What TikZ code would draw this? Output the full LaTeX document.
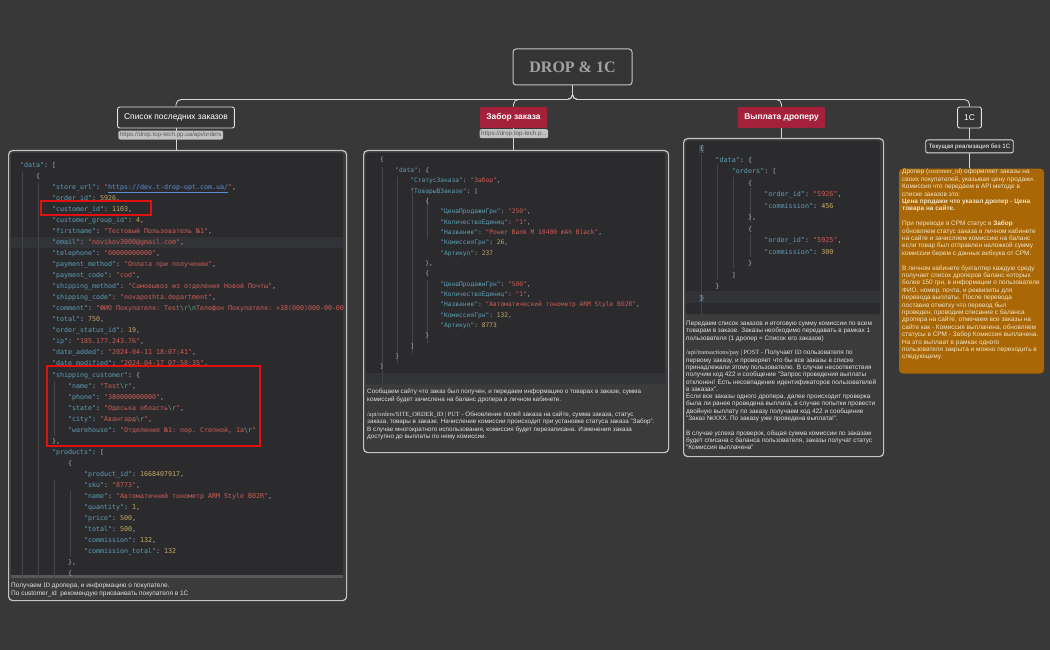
\documentclass[tikz,border=0pt]{standalone}
\usepackage{fontspec}
\setmainfont{Liberation Sans}
\setmonofont{DejaVu Sans Mono}
\newfontfamily\serifface{Liberation Serif}
\usepackage{xcolor}
\usetikzlibrary{positioning}
\definecolor{canvas}{HTML}{383838}
\definecolor{hdrbg}{HTML}{353535}
\definecolor{frame}{HTML}{C4C4C4}
\definecolor{capbg}{HTML}{3B3B3B}
\definecolor{codebg}{HTML}{2B2B2E}
\definecolor{hlrow}{HTML}{323337}
\definecolor{guidec}{HTML}{45464A}
\definecolor{scroll}{HTML}{57585C}
\definecolor{jkey}{HTML}{5E9FB4}
\definecolor{jstr}{HTML}{CF5D57}
\definecolor{jnum}{HTML}{C6AA66}
\definecolor{jpun}{HTML}{A9B2BB}
\definecolor{jesc}{HTML}{62A88C}
\definecolor{jurl}{HTML}{5B8FD8}
\definecolor{jbrace}{HTML}{E3C25A}
\definecolor{jmatch}{HTML}{34405C}
\definecolor{crimson}{HTML}{A4213C}
\definecolor{pill}{HTML}{C2C2C2}
\definecolor{pilltext}{HTML}{5A5A5A}
\definecolor{wire}{HTML}{D6D6D6}
\definecolor{markred}{HTML}{E0110F}
\definecolor{notefill}{HTML}{A96705}
\definecolor{notetxt}{HTML}{F3E4C6}
\definecolor{captxt}{HTML}{E2E2E2}
\definecolor{titletxt}{HTML}{A3A3A3}
% json tokens
\newcommand{\jk}[1]{\textcolor{jkey}{"#1"}: }
\newcommand{\js}[1]{\textcolor{jstr}{"#1"}}
\newcommand{\jn}[1]{\textcolor{jnum}{#1}}
\newcommand{\esc}[1]{\textcolor{jesc}{\textbackslash #1}}
\newcommand{\tb}{\hspace*{2.408em}}
\newcommand{\mbr}[1]{{\fboxsep=0.6pt\colorbox{jmatch}{\textcolor{jbrace}{#1}}}}
\tikzset{
  titlebox/.style={rectangle,rounded corners=3pt,draw=frame,line width=1pt,fill=hdrbg,
    text=titletxt,font=\fontsize{16}{18}\selectfont\serifface\bfseries,minimum width=119pt,minimum height=36pt},
  hdr/.style={rectangle,rounded corners=2pt,draw=white!88!black,line width=0.9pt,fill=hdrbg,text=white,
    font=\fontsize{8.4}{10}\selectfont,minimum height=21pt,inner xsep=6.5pt},
  redhdr/.style={hdr,draw=none,fill=crimson,font=\fontsize{8.4}{10}\selectfont\bfseries},
  urlpill/.style={rectangle,rounded corners=2pt,fill=pill,text=pilltext,font=\fontsize{6.2}{7}\selectfont,
    inner xsep=1.5pt,inner ysep=1pt,minimum height=9pt},
  panel/.style={rectangle,rounded corners=4pt,draw=frame,line width=1.2pt,fill=capbg,anchor=north west,inner sep=0pt},
  notebox/.style={rectangle,rounded corners=4pt,fill=notefill,inner sep=0pt},
  codetext/.style={anchor=north west,inner sep=0pt,align=left,text=jpun},
  captext/.style={anchor=north west,inner sep=0pt,align=left,text=captxt},
  conn/.style={draw=wire,line width=0.9pt,rounded corners=5pt},
  redmark/.style={draw=markred,line width=1.4pt},
  guide/.style={draw=guidec,line width=0.5pt}
}
\begin{document}
\begin{tikzpicture}[x=1pt,y=-1pt]
\useasboundingbox (0,0) rectangle (1050,650);
\fill[canvas] (0,0) rectangle (1050,650);

% title and branches
\node[titlebox] (title) at (572.5,67) {DROP \& 1C};
\node[hdr] (lst) at (176,117.5) {Список последних заказов};
\node[redhdr] (take) at (513.5,117.5) {Забор заказа};
\node[redhdr] (pay) at (781.5,117.5) {Выплата дроперу};
\node[hdr] (onec) at (969.5,117.5) {1С};
\node[hdr,minimum height=13pt,inner xsep=3pt,font=\fontsize{6.2}{7}\selectfont,below=11pt of onec] (cur) {Текущая реализация без 1С};

% panels
\node[panel,minimum width=338pt,minimum height=450pt] (ordpanel) at (8,150) {};
\node[panel,minimum width=305pt,minimum height=302pt] (takepanel) at (363,150) {};
\node[panel,minimum width=200pt,minimum height=318pt] (paypanel) at (683,138) {};
\node[notebox,minimum width=145pt,minimum height=205pt,below=15pt of cur,xshift=2pt] (note) {};

\draw[conn] (title.south) -- ++(0,14) -| (lst.north);
\draw[conn] (title.south) -- ++(0,14) -| (take.north);
\draw[conn] (title.south) -- ++(0,14) -| (pay.north);
\draw[conn] (title.south) -- ++(0,14) -| (onec.north);
\draw[conn] (lst.south) -- (lst.south |- ordpanel.north);
\draw[conn] (take.south) -- (take.south |- takepanel.north);
\draw[conn] (pay.south) -- (pay.south |- paypanel.north);
\draw[conn] (onec) -- (cur);
\draw[conn] (cur) -- (cur.south |- note.north);

\node[urlpill,below=2pt of lst.south west,anchor=north west,xshift=1pt] (lsturl) {https://drop.top-tech.pp.ua/api/orders};
\node[urlpill,below=0.5pt of take.south west,anchor=north west] (takeurl) {https://drop.top-tech.p...};

% code areas
\fill[codebg,rounded corners=2pt] (11,153) rectangle (343,577);
\fill[hlrow] (11,237) rectangle (343,248);
\fill[scroll] (11,575) rectangle (343,578);
\fill[codebg,rounded corners=2pt] (366,153) rectangle (665,384);
\fill[hlrow] (366,373) rectangle (665,384);
\fill[codebg,rounded corners=2pt] (686,141) rectangle (880,314);
\fill[hlrow] (686,291) rectangle (880,303);

\draw[guide] (22,172) -- (22,577);
\draw[guide] (38,183) -- (38,577);
\draw[guide] (54,381) -- (54,436);
\draw[guide] (54,480) -- (54,577);
\draw[guide] (70,491) -- (70,557);
\draw[guide] (382,167) -- (382,384);
\draw[guide] (397,177) -- (397,363);
\draw[guide] (412,187) -- (412,353);
\draw[guide] (427,197) -- (427,239);
\draw[guide] (427,280) -- (427,343);
\draw[guide] (701,154) -- (701,314);
\draw[guide] (717,165) -- (717,280);
\draw[guide] (733,177) -- (733,268);
\draw[guide] (750,188) -- (750,222);
\draw[guide] (750,234) -- (750,257);

\begin{scope}
\clip (11,153) rectangle (343,575);
\node[codetext,font=\fontsize{6.64}{11.04}\selectfont\ttfamily] (ordcode) at (20,162) {%
\jk{data}[\\
\tb\{\\
\tb\tb\jk{store\_url}\textcolor{jstr}{"}\textcolor{jurl}{\underline{https://dev.t-drop-opt.com.ua/}}\textcolor{jstr}{"},\\
\tb\tb\jk{order\_id}\jn{5926},\\
\tb\tb\jk{customer\_id}\jn{1103},\\
\tb\tb\jk{customer\_group\_id}\jn{4},\\
\tb\tb\jk{firstname}\js{Тестовый Пользователь №1},\\
\tb\tb\jk{email}\js{novikov3000@gmail.com},\\
\tb\tb\jk{telephone}\js{00000000000},\\
\tb\tb\jk{payment\_method}\js{Оплата при получении},\\
\tb\tb\jk{payment\_code}\js{cod},\\
\tb\tb\jk{shipping\_method}\js{Самовывоз из отделения Новой Почты},\\
\tb\tb\jk{shipping\_code}\js{novaposhta.department},\\
\tb\tb\jk{comment}\textcolor{jstr}{"ФИО Покупателя: Test\esc{r}\esc{n}Телефон Покупателя: +38(000)000-00-00"},\\
\tb\tb\jk{total}\jn{750},\\
\tb\tb\jk{order\_status\_id}\jn{19},\\
\tb\tb\jk{ip}\js{185.177.243.76},\\
\tb\tb\jk{date\_added}\js{2024-04-11 18:07:41},\\
\tb\tb\jk{date\_modified}\js{2024-04-17 07:58:35},\\
\tb\tb\jk{shipping\_customer}\{\\
\tb\tb\tb\jk{name}\textcolor{jstr}{"Test\esc{r}"},\\
\tb\tb\tb\jk{phone}\js{380000000000},\\
\tb\tb\tb\jk{state}\textcolor{jstr}{"Одеська область\esc{r}"},\\
\tb\tb\tb\jk{city}\textcolor{jstr}{"Авангард\esc{r}"},\\
\tb\tb\tb\jk{warehouse}\textcolor{jstr}{"Отделение №1: пер. Степной, 1а\esc{r}"}\\
\tb\tb\},\\
\tb\tb\jk{products}[\\
\tb\tb\tb\{\\
\tb\tb\tb\tb\jk{product\_id}\jn{1668407917},\\
\tb\tb\tb\tb\jk{sku}\js{8773},\\
\tb\tb\tb\tb\jk{name}\js{Автоматичний тонометр ARM Style B02R},\\
\tb\tb\tb\tb\jk{quantity}\jn{1},\\
\tb\tb\tb\tb\jk{price}\jn{500},\\
\tb\tb\tb\tb\jk{total}\jn{500},\\
\tb\tb\tb\tb\jk{commission}\jn{132},\\
\tb\tb\tb\tb\jk{commission\_total}\jn{132}\\
\tb\tb\tb\},\\
\tb\tb\tb\{};
\end{scope}
\draw[redmark] (41,201) rectangle (151,215);
\draw[redmark] (47,366) rectangle (260,446);

\node[codetext,font=\fontsize{6.25}{10.35}\selectfont\ttfamily] (takecode) at (380,157) {%
\{\\
\tb\jk{data}\{\\
\tb\tb\jk{СтатусЗаказа}\js{Забор},\\
\tb\tb\jk{ТоварыВЗаказе}[\\
\tb\tb\tb\{\\
\tb\tb\tb\tb\jk{ЦенаПродажиГрн}\js{250},\\
\tb\tb\tb\tb\jk{КоличествоЕдиниц}\js{1},\\
\tb\tb\tb\tb\jk{Название}\js{Power Bank M 10400 mAh Black},\\
\tb\tb\tb\tb\jk{КомиссияГрн}\jn{26},\\
\tb\tb\tb\tb\jk{Артикул}\jn{237}\\
\tb\tb\tb\},\\
\tb\tb\tb\{\\
\tb\tb\tb\tb\jk{ЦенаПродажиГрн}\js{500},\\
\tb\tb\tb\tb\jk{КоличествоЕдиниц}\js{1},\\
\tb\tb\tb\tb\jk{Название}\js{Автоматический тонометр ARM Style B02R},\\
\tb\tb\tb\tb\jk{КомиссияГрн}\jn{132},\\
\tb\tb\tb\tb\jk{Артикул}\jn{8773}\\
\tb\tb\tb\}\\
\tb\tb]\\
\tb\}\\
\}};

\node[codetext,font=\fontsize{6.76}{11.5}\selectfont\ttfamily] (paycode) at (699,145) {%
\mbr{\{}\\
\tb\jk{data}\{\\
\tb\tb\jk{orders}[\\
\tb\tb\tb\{\\
\tb\tb\tb\tb\jk{order\_id}\js{5926},\\
\tb\tb\tb\tb\jk{commission}\jn{456}\\
\tb\tb\tb\},\\
\tb\tb\tb\{\\
\tb\tb\tb\tb\jk{order\_id}\js{5925},\\
\tb\tb\tb\tb\jk{commission}\jn{300}\\
\tb\tb\tb\}\\
\tb\tb]\\
\tb\}\\
\mbr{\}}};

% captions
\node[captext,font=\fontsize{6.5}{8}\selectfont] (ordcap) at (11,583) {%
Получаем {\serifface ID} дропера, и информацию о покупателе.\\
По customer\_id\ \ рекомендую присваивать покупателя в 1С};

\node[captext,font=\fontsize{6.3}{7.5}\selectfont] (takecap) at (367,389) {%
Сообщаем сайту что заказ был получен, и передаем информацию о товарах в заказе, сумма\\
комиссий будет зачислена на баланс дропера в личном кабинете.\\[7.5pt]
{\serifface /api/orders/SITE\_ORDER\_ID | PUT} - Обновление полей заказа на сайте, сумма заказа, статус\\
заказа, товары в заказе. Начисление комиссии происходит при установке статуса заказа "Забор".\\
В случае многократного использования, комиссия будет перезаписана. Изменения заказа\\
доступно до выплаты по нему комиссии.};

\node[captext,font=\fontsize{6.4}{7.3}\selectfont] (paycap) at (686,321) {%
Передаем список заказов и итоговую сумму комиссии по всем\\
товарам в заказе. Заказы необходимо передавать в рамках 1\\
пользователя (1 дропер = Список его заказов)\\[7.3pt]
{\serifface /api/transactions/pay | POST} - Получает {\serifface ID} пользователя по\\
первому заказу, и проверяет что бы все заказы в списке\\
принадлежали этому пользователю. В случае несоответствия\\
получим код 422 и сообщение "Запрос проведения выплаты\\
отклонен! Есть несовпадение идентификаторов пользователей\\
в заказах".\\
Если все заказы одного дропера, далее происходит проверка\\
была ли ранее проведена выплата, в случае попытки провести\\
двойную выплату по заказу получаем код 422 и сообщение\\
"Заказ №XXX. По заказу уже проведена выплата!".\\[7.3pt]
В случае успеха проверок, общая сумма комиссии по заказам\\
будет списана с баланса пользователя, заказы получат статус\\
"Комиссия выплачена"};

\node[captext,text=notetxt,font=\fontsize{6.45}{7.4}\selectfont] (notetext) at (902,169) {%
Дропер ({\serifface customer\_id}) оформляет заказы на\\
своих покупателей, указывая цену продажи.\\
Комиссия что передаем в API методе в\\
списке заказов это:\\
\textbf{Цена продажи что указал дропер - Цена}\\
\textbf{товара на сайте.}\\[7.4pt]
При переводе в СРМ статус в \textbf{Забор}\\
обновляем статус заказа в личном кабинете\\
на сайте и зачисляем комиссию на баланс\\
если товар был отправлен наложкой сумму\\
комиссии берем с данных вебхука от СРМ.\\[7.4pt]
В личном кабинете бухгалтер каждую среду\\
получает список дроперов баланс которых\\
более 150 грн, в информации о пользователе\\
ФИО, номер, почта, и реквизиты для\\
перевода выплаты. После перевода\\
поставив отметку что перевод был\\
проведен, проводим списание с баланса\\
дропера на сайте, отмечаем все заказы на\\
сайте как - Комиссия выплачена, обновляем\\
статусы в СРМ - Забор Комиссия выплачена.\\
На это выплаат в рамках одного\\
пользователя закрыта и можно переходить в\\
следующему.};
\end{tikzpicture}
\end{document}
